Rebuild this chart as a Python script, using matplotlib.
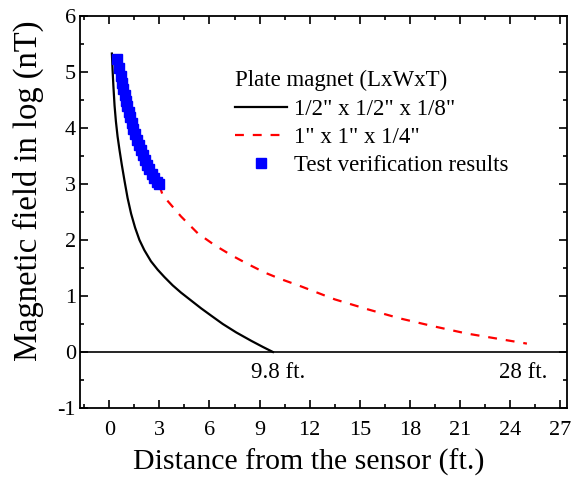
import matplotlib
matplotlib.use("Agg")
import matplotlib.pyplot as plt
from matplotlib.ticker import MultipleLocator

plt.rcParams['font.family'] = ['Liberation Serif', 'DejaVu Serif']
plt.rcParams['axes.unicode_minus'] = False

# data
small_x = [0.16, 0.2, 0.25, 0.32, 0.4, 0.5, 0.62, 0.75, 0.92, 1.1, 1.31, 1.55, 1.81, 2.1,
           2.5, 2.9, 3.3, 3.8, 4.3, 4.9, 5.5, 6.1, 6.8, 7.6, 8.5, 9.2, 9.8]
small_y = [5.33, 5.05, 4.75, 4.40, 4.12, 3.85, 3.60, 3.35, 3.05, 2.75, 2.47, 2.22, 2.0, 1.82,
           1.62, 1.47, 1.34, 1.19, 1.06, 0.92, 0.78, 0.65, 0.5, 0.35, 0.2, 0.09, 0.0]

large_x = [3.0, 3.2, 4.3, 5.3, 6.3, 7.3, 8.3, 9.3, 10.2, 11.5, 13.5, 15.5, 17.4, 19.4, 21.4, 23.4, 25.0]
large_y = [2.98, 2.8, 2.42, 2.12, 1.91, 1.73, 1.57, 1.42, 1.31, 1.17, 0.94, 0.76, 0.6, 0.46, 0.33, 0.23, 0.15]

test_x = [0.46, 0.56, 0.68, 0.76, 0.84, 0.92, 1.0, 1.08, 1.17, 1.26, 1.35, 1.45,
          1.55, 1.66, 1.77, 1.89, 2.01, 2.14, 2.27, 2.41, 2.55, 2.70, 2.85, 2.97]
test_y = [5.24, 5.08, 4.92, 4.81, 4.70, 4.59, 4.49, 4.39, 4.29, 4.19, 4.09, 3.99,
          3.89, 3.79, 3.70, 3.60, 3.51, 3.42, 3.34, 3.26, 3.18, 3.10, 3.04, 3.00]

x_ticks = [0, 3, 6, 9, 12, 15, 18, 21, 24, 27]
y_ticks = [-1, 0, 1, 2, 3, 4, 5, 6]

fig = plt.figure(figsize=(5.77, 4.82), dpi=100)
ax = fig.add_axes([0.1386, 0.1535, 0.8441, 0.8133])

ax.axhline(0, color='black', linewidth=1.2, zorder=1)
ax.plot(small_x, small_y, color='black', linewidth=1.6, label='1/2" x 1/2" x 1/8"')
ax.plot(large_x, large_y, color='red', linewidth=1.6, linestyle=(0, (4, 4)),
        label='1" x 1" x 1/4"')
ax.plot(test_x, test_y, linestyle='none', marker='s', markersize=7,
        color='blue', markeredgecolor='blue', label='Test verification results')

ax.text(10.1, -0.37, '9.8 ft.', ha='center', va='center', fontsize=16.5)
ax.text(24.8, -0.37, '28 ft.', ha='center', va='center', fontsize=16.5)

ax.set_xlim(-1.75, 27.4)
ax.set_ylim(-1, 6)
ax.set_xticks(x_ticks)
ax.set_yticks(y_ticks)
ax.xaxis.set_minor_locator(MultipleLocator(1.5))
ax.yaxis.set_minor_locator(MultipleLocator(0.5))
ax.tick_params(which='both', direction='in', top=True, right=True,
               labeltop=False, labelright=False, width=1.2)
ax.tick_params(which='major', length=6, labelsize=16)
ax.tick_params(axis='x', which='major', pad=9)
ax.tick_params(axis='y', which='major', pad=3)
ax.tick_params(which='minor', length=3)
for s in ax.spines.values():
    s.set_linewidth(1.3)

ax.set_xlabel('Distance from the sensor (ft.)', fontsize=21.5)
ax.xaxis.set_label_coords(0.47, -0.138)
ax.xaxis.label.set_va('center')
ax.set_ylabel('Magnetic field in log (nT)', fontsize=23.5)
ax.yaxis.set_label_coords(-0.107, 0.553)
ax.yaxis.label.set_va('center')

leg = ax.legend(title='Plate magnet (LxWxT)', loc='upper left',
                bbox_to_anchor=(0.318, 0.862), frameon=False, fontsize=16.5,
                title_fontsize=16.5, handlelength=2.27, handletextpad=0.3,
                labelspacing=0.32, borderaxespad=0, borderpad=0)
leg._legend_box.align = 'left'

fig.savefig('out.png', dpi=100)
